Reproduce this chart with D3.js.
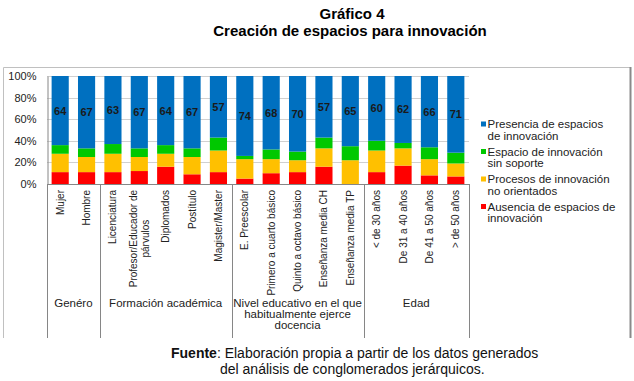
<!DOCTYPE html>
<html><head><meta charset="utf-8">
<script src="https://cdn.jsdelivr.net/npm/d3@7"></script>
<style>body{margin:0;background:#fff} svg{display:block;font-family:"Liberation Sans",Arial,sans-serif}</style>
</head><body><svg id="c" width="634" height="381"></svg>
<script>
const categories = ["Mujer","Hombre","Licenciatura","Profesor/Educador de\npárvulos","Diplomados","Postítulo","Magister/Master","E. Preescolar","Primero a cuarto básico","Quinto a octavo básico","Enseñanza media CH","Enseñanza media TP","< de 30 años","De 31 a 40 años","De 41 a 50 años","> de 50 años"];
const groupNames = [["Genéro"],["Formación académica"],["Nivel educativo en el que","habitualmente ejerce","docencia"],["Edad"]];
const groupSizes = [2,5,5,4];
const ausencia  = [11,11,11,12,16,9,11,5,10,11,16,0,11,17,8,7];
const procesos  = [17,14,17,13,12,16,20,18,13,11,17,22,20,16,15,12];
const espacio   = [8,8,9,8,8,8,12,3,9,8,10,13,9,5,11,10];
const presencia = [64,67,63,67,64,67,57,74,68,70,57,65,60,62,66,71];
const seriesNames = ["Ausencia de espacios de\ninnovación","Procesos de innovación\nno orientados","Espacio de innovación\nsin soporte","Presencia de espacios\nde innovación"];
const seriesColors = ["#FF0000","#FFC000","#00C800","#0070C0"];
const yTicks = [0,20,40,60,80,100];

const svg = d3.select("#c");
const keys = ["a","p","e","r"];
const table = categories.map((c,i)=>({cat:c,a:ausencia[i],p:procesos[i],e:espacio[i],r:presencia[i]}));
const stacked = d3.stack().keys(keys)(table);

const x = d3.scaleBand().domain(categories).range([47,469]).paddingInner(0.35).paddingOuter(0.175);
const y = d3.scaleLinear().domain([0,100]).range([184,76]);

// frame
svg.append("path").attr("d","M3.5,338 V67.5 H630").attr("fill","none").attr("stroke","#c0c0c0").attr("stroke-width",1);
svg.append("line").attr("x1",630.5).attr("x2",630.5).attr("y1",67).attr("y2",338).attr("stroke","#8a8a8a").attr("stroke-width",2);

// title
svg.append("text").attr("x",352).attr("y",19).attr("text-anchor","middle").attr("font-weight","bold").attr("font-size",15).text("Gráfico 4");
svg.append("text").attr("x",350).attr("y",35.5).attr("text-anchor","middle").attr("font-weight","bold").attr("font-size",15).text("Creación de espacios para innovación");

// grid
svg.append("g").selectAll("line").data(yTicks.slice(1)).join("line")
  .attr("x1",47).attr("x2",469).attr("y1",d=>Math.round(y(d))+0.5).attr("y2",d=>Math.round(y(d))+0.5)
  .attr("stroke","#d0d0d0");

// y axis
const yAxis = d3.axisLeft(y).tickValues(yTicks).tickFormat(d=>d+"%").tickSize(0).tickPadding(11);
const ga = svg.append("g").attr("transform","translate(47.5,0)").call(yAxis);
ga.select(".domain").attr("stroke","#868686");
ga.selectAll("text").attr("font-size",11).attr("font-family","Liberation Sans, Arial, sans-serif").attr("fill","#222");

// bars
svg.append("g").selectAll("g").data(stacked).join("g").attr("fill",(d,i)=>seriesColors[i])
  .selectAll("rect").data(d=>d).join("rect")
  .attr("x",d=>x(d.data.cat)).attr("width",x.bandwidth())
  .attr("y",d=>y(d[1])).attr("height",d=>y(d[0])-y(d[1]));

// value labels on blue
const topSeries = stacked[3];
svg.append("g").selectAll("text").data(topSeries).join("text")
  .attr("x",d=>x(d.data.cat)+x.bandwidth()/2).attr("y",d=>(y(d[0])+y(d[1]))/2+4)
  .attr("text-anchor","middle").attr("font-weight","bold").attr("font-size",11).attr("fill","#1a1a1a")
  .text(d=>d.data.r);

// x axis line
svg.append("line").attr("x1",47).attr("x2",469).attr("y1",184.5).attr("y2",184.5).attr("stroke","#868686");

// category labels
categories.forEach(c=>{
  const lines = c.split("\n");
  const cx = x(c)+x.bandwidth()/2;
  const lh = 11.7;
  const g = svg.append("g");
  const t0 = g.append("text").attr("font-size",10).attr("fill","#222").attr("text-anchor","end")
    .attr("transform",`translate(${cx - (lines.length-1)*lh/2 + 3.5},190) rotate(-90)`).text(lines[0]);
  if(lines.length>1){
    const w = t0.node().getComputedTextLength();
    for(let k=1;k<lines.length;k++){
      g.append("text").attr("font-size",10).attr("fill","#222").attr("text-anchor","middle")
        .attr("transform",`translate(${cx - (lines.length-1)*lh/2 + k*lh + 3.5},${190+w/2}) rotate(-90)`).text(lines[k]);
    }
  }
});

// group separators and labels
let idx=0;
const bounds=[0];
groupSizes.forEach(s=>{idx+=s;bounds.push(idx);});
const step = x.step();
const xb = i => 47 + i*step;
svg.append("g").selectAll("line").data(bounds).join("line")
  .attr("x1",d=>Math.round(xb(d))+0.5).attr("x2",d=>Math.round(xb(d))+0.5).attr("y1",184).attr("y2",338)
  .attr("stroke","#868686");
groupNames.forEach((lines,i)=>{
  const cx=(xb(bounds[i])+xb(bounds[i+1]))/2;
  lines.forEach((l,k)=>{
    svg.append("text").attr("x",cx).attr("y",307+k*11).attr("text-anchor","middle").attr("font-size",11.5).attr("fill","#222").text(l);
  });
});

// legend
const legOrder=[3,2,1,0];
legOrder.forEach((si,j)=>{
  const yy=124+j*27.5;
  svg.append("rect").attr("x",481).attr("y",yy-2.5).attr("width",5).attr("height",5).attr("fill",seriesColors[si]);
  seriesNames[si].split("\n").forEach((l,k)=>{
    svg.append("text").attr("x",487.5).attr("y",yy+4+k*11.7).attr("font-size",11.5).attr("fill","#222").text(l);
  });
});

// footer
const f1 = svg.append("text").attr("x",171).attr("y",357.5).attr("font-size",14).attr("fill","#111");
f1.append("tspan").attr("font-weight","bold").text("Fuente");
f1.append("tspan").text(": Elaboración propia a partir de los datos generados");
svg.append("text").attr("x",220).attr("y",373.5).attr("font-size",14).attr("fill","#111").text("del análisis de conglomerados jerárquicos.");
</script></body></html>
